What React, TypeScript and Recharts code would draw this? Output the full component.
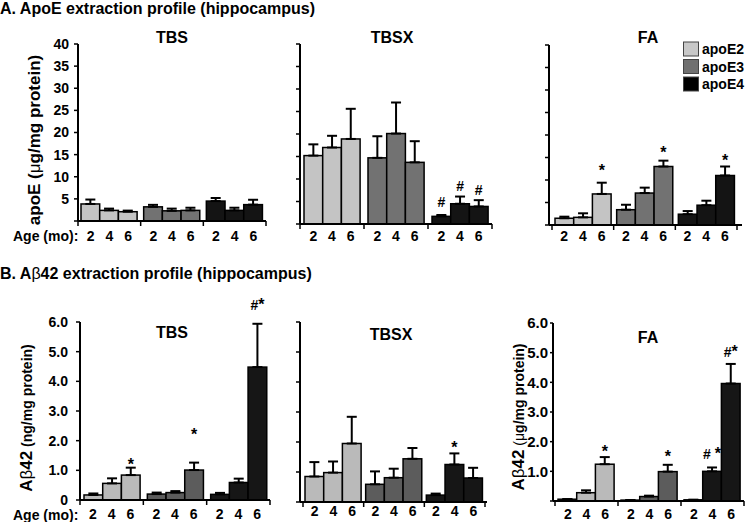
import React from 'react';
import { BarChart, Bar, XAxis, YAxis, ErrorBar } from 'recharts';

const FONT = '"Liberation Sans", Arial, Helvetica, sans-serif';

const genotypes = ['apoE2', 'apoE3', 'apoE4'];
const ages = ['2', '4', '6'];

// A. ApoE (ug/mg protein) — rows: apoE2, apoE3, apoE4 ; cols: 2, 4, 6 months
const aTbsMean = [[3.85, 2.4, 2.1], [3.2, 2.3, 2.4], [4.5, 2.4, 3.7]];
const aTbsErr = [[1.0, 0.4, 0.25], [0.45, 0.5, 0.6], [0.7, 0.6, 1.1]];
const aTbsMarks = [['', '', ''], ['', '', ''], ['', '', '']];
const aTbsMarkAt = [[0, 0, 0], [0, 0, 0], [0, 0, 0]];

const aTbsxMean = [[15.2, 17.0, 18.9], [14.7, 20.1, 13.7], [1.7, 4.5, 3.9]];
const aTbsxErr = [[2.5, 2.6, 6.7], [4.8, 6.9, 4.7], [0.3, 1.6, 1.4]];
const aTbsxMarks = [['', '', ''], ['', '', ''], ['#', '#', '#']];
const aTbsxMarkAt = [[0, 0, 0], [0, 0, 0], [4.8, 8.5, 7.6]];

const aFaMean = [[1.5, 1.7, 6.9], [3.4, 7.1, 13.0], [2.4, 4.4, 11.0]];
const aFaErr = [[0.35, 0.9, 2.5], [1.1, 1.2, 1.3], [0.7, 1.0, 2.0]];
const aFaMarks = [['', '', '*'], ['', '', '*'], ['', '', '*']];
const aFaMarkAt = [[0, 0, 13.0], [0, 0, 16.8], [0, 0, 15.2]];

// B. Abeta42 — rows: apoE2, apoE3, apoE4 ; cols: 2, 4, 6 months
const bTbsMean = [[0.17, 0.56, 0.84], [0.2, 0.25, 1.01], [0.19, 0.59, 4.48]];
const bTbsErr = [[0.05, 0.17, 0.25], [0.05, 0.05, 0.25], [0.05, 0.13, 1.46]];
const bTbsMarks = [['', '', '*'], ['', '', '*'], ['', '', '#*']];
const bTbsMarkAt = [[0, 0, 1.33], [0, 0, 2.31], [0, 0, 6.56]];

const bTbsxMean = [[0.85, 0.98, 1.95], [0.59, 0.81, 1.44], [0.23, 1.25, 0.8]];
const bTbsxErr = [[0.48, 0.37, 0.89], [0.43, 0.3, 0.36], [0.05, 0.37, 0.34]];
const bTbsxMarks = [['', '', ''], ['', '', ''], ['', '*', '']];
const bTbsxMarkAt = [[0, 0, 0], [0, 0, 0], [0, 1.94, 0]];

const bFaMean = [[0.06, 0.28, 1.24], [0.03, 0.15, 0.99], [0.04, 1.0, 3.96]];
const bFaErr = [[0, 0.08, 0.24], [0, 0.03, 0.23], [0, 0.13, 0.66]];
const bFaMarks = [['', '', '*'], ['', '', '*'], ['', '# *', '#*']];
const bFaMarkAt = [[0, 0, 1.77], [0, 0, 1.62], [0, 1.59, 5.03]];

const ticksA = [0, 5, 10, 15, 20, 25, 30, 35, 40];
const ticksB = [0, 1, 2, 3, 4, 5, 6];

const colorsA = ['#c4c4c4', '#727272', '#141414'];
const colorsB = ['#bababa', '#5c5c5c', '#161616'];
const legendColors = ['#c8c8c8', '#707070', '#000000'];

const BAR = 18.7;
const YW = 75;
const MT = 34;
const XH = 30;
const MR = 6;

type Cfg = {
  l: number; t: number; r: number; b: number;
  padL: number; padR: number; yMax: number; ticks: number[];
  fmt: (v: number) => string; tickFs: number; tickSize: number; tickMargin: number; dy: number;
};

const fmtA = (v: number) => (v === 0 ? '' : String(v));
const fmtNone = () => '';
const fmtB0 = (v: number) => (v === 0 ? '0' : v.toFixed(1));
const fmtB = (v: number) => (v === 0 ? '' : v.toFixed(1));

function renderMark(text: string, cx: number, cy: number) {
  if (!text) return null;
  const hasHash = text.indexOf('#') >= 0;
  const baseline = hasHash ? cy + 5 : cy + 9;
  return (
    <text x={cx} y={baseline} textAnchor="middle" fontFamily={FONT} fill="#000">
      {text.split('').map((ch, i) => (
        <tspan key={i} fontSize={ch === '*' ? 16 : 14} fontWeight="bold">{ch}</tspan>
      ))}
    </text>
  );
}

function makeShape(a: number, colors: string[]) {
  return (props: any) => {
    const { x, y, width, height, payload, index } = props;
    const fill = colors[index] || '#888';
    const mean = payload['m' + a];
    const mark = payload['k' + a];
    const at = payload['a' + a];
    let markEl = null;
    if (mark && mean > 0 && height > 0) {
      const my = y - (at - mean) * (height / mean);
      markEl = renderMark(mark, x + width / 2, my);
    }
    return (
      <g>
        <rect x={x} y={y} width={width} height={Math.max(height, 0)} fill={fill} stroke="#000" strokeWidth={1.5} />
        {markEl}
      </g>
    );
  };
}

function Panel({ cfg, mean, err, marks, markAt, colors }: any) {
  const c: Cfg = cfg;
  const plotW = c.r - c.l;
  const plotH = c.b - c.t;
  const W = plotW + YW + MR;
  const H = plotH + MT + XH;
  const band = (plotW - c.padL - c.padR) / 3;
  const data = genotypes.map((g, i) => {
    const row: any = { g };
    for (let a = 0; a < 3; a++) {
      row['m' + a] = mean[i][a];
      row['e' + a] = [0, err[i][a]];
      row['k' + a] = marks[i][a];
      row['a' + a] = markAt[i][a];
    }
    return row;
  });
  const AgeTick = (p: any) => {
    const { x, y, index } = p;
    return (
      <g>
        <line x1={x - band / 2} x2={x - band / 2} y1={y} y2={y + 5} stroke="#000" strokeWidth={1.5} />
        {index === 2 && <line x1={x + band / 2} x2={x + band / 2} y1={y} y2={y + 5} stroke="#000" strokeWidth={1.5} />}
        {ages.map((a, j) => (
          <text key={j} x={x + (j - 1) * BAR} y={y + c.dy} textAnchor="middle" fontSize={14} fontWeight="bold" fontFamily={FONT} fill="#000">{a}</text>
        ))}
      </g>
    );
  };
  return (
    <div style={{ position: 'absolute', left: c.l - YW, top: c.t - MT }}>
      <BarChart width={W} height={H} data={data} margin={{ top: MT, right: MR, bottom: 0, left: 0 }} barGap={0} barCategoryGap={0}>
        <XAxis
          dataKey="g"
          type="category"
          height={XH}
          padding={{ left: c.padL, right: c.padR }}
          axisLine={{ stroke: '#000', strokeWidth: 2 }}
          tickLine={false}
          tickSize={0}
          tickMargin={0}
          interval={0}
          tick={(p: any) => <AgeTick {...p} />}
        />
        <YAxis
          width={YW}
          type="number"
          domain={[0, c.yMax]}
          ticks={c.ticks}
          interval={0}
          tickFormatter={c.fmt}
          tickSize={c.tickSize}
          tickMargin={c.tickMargin}
          tickLine={{ stroke: '#000', strokeWidth: 1.5 }}
          axisLine={{ stroke: '#000', strokeWidth: 2 }}
          tick={{ fill: '#000', fontSize: c.tickFs, fontWeight: 'bold', fontFamily: FONT }}
        />
        {[0, 1, 2].map((a) => (
          <Bar key={a} dataKey={'m' + a} barSize={BAR} isAnimationActive={false} shape={makeShape(a, colors)}>
            <ErrorBar dataKey={'e' + a} width={5} strokeWidth={2} stroke="#000" direction="y" isAnimationActive={false} />
          </Bar>
        ))}
      </BarChart>
    </div>
  );
}

const cfgATbs: Cfg = { l: 78, t: 44, r: 266, b: 221, padL: 0, padR: 0, yMax: 40, ticks: ticksA, fmt: fmtA, tickFs: 14, tickSize: 4, tickMargin: 5, dy: 20 };
const cfgATbsx: Cfg = { l: 300, t: 44, r: 492, b: 224, padL: 0, padR: 0, yMax: 40, ticks: ticksA, fmt: fmtNone, tickFs: 14, tickSize: 4, tickMargin: 5, dy: 17 };
const cfgAFa: Cfg = { l: 549, t: 45, r: 742, b: 225, padL: 3, padR: 5, yMax: 40, ticks: ticksA, fmt: fmtNone, tickFs: 14, tickSize: 4, tickMargin: 5, dy: 16 };
const cfgBTbs: Cfg = { l: 80, t: 322, r: 270, b: 500, padL: 0, padR: 0, yMax: 6, ticks: ticksB, fmt: fmtB0, tickFs: 14, tickSize: 4, tickMargin: 8, dy: 19 };
const cfgBTbsx: Cfg = { l: 300, t: 322, r: 487, b: 502, padL: 3, padR: 2, yMax: 6, ticks: ticksB, fmt: fmtNone, tickFs: 14, tickSize: 4, tickMargin: 7, dy: 14 };
const cfgBFa: Cfg = { l: 553, t: 323, r: 744, b: 501, padL: 2, padR: 0, yMax: 6, ticks: ticksB, fmt: fmtB, tickFs: 15, tickSize: 3, tickMargin: 2, dy: 18 };

const txt = { fontFamily: FONT, fill: '#000' } as any;

function Overlay() {
  return (
    <svg width={745} height={522} style={{ position: 'absolute', left: 0, top: 0, pointerEvents: 'none' }}>
      <text x={0} y={14} fontSize={16} fontWeight="bold" {...txt}>A. ApoE extraction profile (hippocampus)</text>
      <text x={0} y={279} fontSize={16} fontWeight="bold" {...txt}>
        B. A<tspan fontWeight="normal">β</tspan>42 extraction profile (hippocampus)
      </text>

      <text x={172} y={43} fontSize={16} fontWeight="bold" textAnchor="middle" {...txt}>TBS</text>
      <text x={392} y={43} fontSize={16} fontWeight="bold" textAnchor="middle" {...txt}>TBSX</text>
      <text x={648} y={43} fontSize={16} fontWeight="bold" textAnchor="middle" {...txt}>FA</text>
      <text x={172} y={338} fontSize={16} fontWeight="bold" textAnchor="middle" {...txt}>TBS</text>
      <text x={391} y={340} fontSize={16} fontWeight="bold" textAnchor="middle" {...txt}>TBSX</text>
      <text x={648} y={343} fontSize={16} fontWeight="bold" textAnchor="middle" {...txt}>FA</text>

      <text x={0} y={0} transform="translate(39.5,140) rotate(-90)" fontSize={17} fontWeight="bold" textAnchor="middle" {...txt}>
        apoE (<tspan fontWeight="normal">μ</tspan>g/mg protein)
      </text>
      <text x={0} y={0} transform="translate(31.5,418) rotate(-90)" textAnchor="middle" {...txt}>
        <tspan fontSize={17} fontWeight="bold">A</tspan>
        <tspan fontSize={17} fontWeight="normal">β</tspan>
        <tspan fontSize={17} fontWeight="bold">42</tspan>
        <tspan fontSize={14} fontWeight="bold"> (ng/mg protein)</tspan>
      </text>
      <text x={0} y={0} transform="translate(524,417) rotate(-90)" textAnchor="middle" {...txt}>
        <tspan fontSize={17} fontWeight="bold">A</tspan>
        <tspan fontSize={17} fontWeight="normal">β</tspan>
        <tspan fontSize={17} fontWeight="bold">42</tspan>
        <tspan fontSize={14} fontWeight="normal"> (</tspan>
        <tspan fontSize={14} fontWeight="normal">μ</tspan>
        <tspan fontSize={14} fontWeight="bold">g/mg protein)</tspan>
      </text>

      <text x={13} y={241} fontSize={14} fontWeight="bold" {...txt}>Age (mo):</text>
      <text x={13} y={520} fontSize={14} fontWeight="bold" {...txt}>Age (mo):</text>

      {genotypes.map((g, i) => (
        <g key={g}>
          <rect x={683.5} y={42 + i * 17.5} width={15} height={14} fill={legendColors[i]} stroke="#444" strokeWidth={1} />
          <text x={702} y={54 + i * 17.5} fontSize={14} fontWeight="bold" {...txt}>{g}</text>
        </g>
      ))}
    </svg>
  );
}

export default function App() {
  return (
    <div style={{ position: 'absolute', left: 0, top: 0, width: 745, height: 522, background: '#fff', overflow: 'hidden' }}>
      <Panel cfg={cfgATbs} mean={aTbsMean} err={aTbsErr} marks={aTbsMarks} markAt={aTbsMarkAt} colors={colorsA} />
      <Panel cfg={cfgATbsx} mean={aTbsxMean} err={aTbsxErr} marks={aTbsxMarks} markAt={aTbsxMarkAt} colors={colorsA} />
      <Panel cfg={cfgAFa} mean={aFaMean} err={aFaErr} marks={aFaMarks} markAt={aFaMarkAt} colors={colorsA} />
      <Panel cfg={cfgBTbs} mean={bTbsMean} err={bTbsErr} marks={bTbsMarks} markAt={bTbsMarkAt} colors={colorsB} />
      <Panel cfg={cfgBTbsx} mean={bTbsxMean} err={bTbsxErr} marks={bTbsxMarks} markAt={bTbsxMarkAt} colors={colorsB} />
      <Panel cfg={cfgBFa} mean={bFaMean} err={bFaErr} marks={bFaMarks} markAt={bFaMarkAt} colors={colorsB} />
      <Overlay />
    </div>
  );
}
